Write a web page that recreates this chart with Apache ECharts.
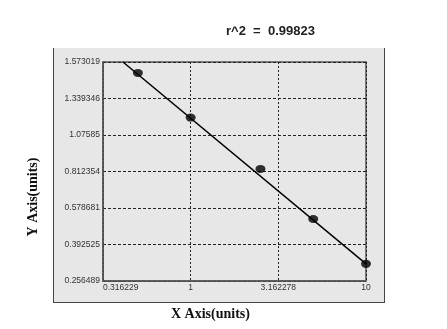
<!DOCTYPE html>
<html><head><meta charset="utf-8">
<script src="https://cdn.jsdelivr.net/npm/echarts@6/dist/echarts.min.js"></script>
<style>html,body{margin:0;padding:0;background:#fff}#c{width:447px;height:329px}</style>
</head><body><div id="c"></div>
<script>
// Data
var xTickValues = [0.316229, 1, 3.162278, 10];
var xTickLabels = ['0.316229', '1', '3.162278', '10'];
var yTickValues = [0.256489, 0.392525, 0.578681, 0.812354, 1.07585, 1.339346, 1.573019];
var yTickLabels = ['0.256489', '0.392525', '0.578681', '0.812354', '1.07585', '1.339346', '1.573019'];
var xValues = [0.5, 1, 2.5, 5, 10];
var yValues = [1.503, 1.2017, 0.8308, 0.5228, 0.3204];
var fitX = [0.411, 10];
var fitY = [1.573019, 0.3204];
var titleText = 'r^2  =  0.99823';

// The y axis is drawn with equally spaced ticks; map a value to its tick position
function yPos(v) {
  for (var i = 0; i < yTickValues.length - 1; i++) {
    if (v <= yTickValues[i + 1]) {
      return i + (v - yTickValues[i]) / (yTickValues[i + 1] - yTickValues[i]);
    }
  }
  return yTickValues.length - 1;
}
function xPos(v) { return Math.log10(v); }

var pts = xValues.map(function (x, i) { return [xPos(x), yPos(yValues[i])]; });
var fit = fitX.map(function (x, i) { return [xPos(x), yPos(fitY[i])]; });

var chart = echarts.init(document.getElementById('c'), null, {renderer: 'canvas'});
chart.setOption({
  animation: false,
  backgroundColor: '#ffffff',
  graphic: [
    {type: 'rect', z: -10, shape: {x: 53, y: 48, width: 331, height: 254}, style: {fill: '#e7e7e7'}},
    {type: 'line', z: -9, shape: {x1: 53.5, y1: 48, x2: 53.5, y2: 302}, style: {stroke: '#444', lineWidth: 1}},
    {type: 'line', z: -9, shape: {x1: 384.5, y1: 48, x2: 384.5, y2: 302}, style: {stroke: '#444', lineWidth: 1}},
    {type: 'line', z: -9, shape: {x1: 53, y1: 302.5, x2: 385, y2: 302.5}, style: {stroke: '#444', lineWidth: 1}},
    {type: 'text', left: 226, top: 25, style: {text: titleText, font: 'bold 13px "Liberation Sans", Arial, sans-serif', fill: '#222'}},
    {type: 'text', left: 171, top: 307, style: {text: 'X Axis(units)', font: 'bold 14px "Liberation Serif", "Times New Roman", serif', fill: '#111'}},
    {type: 'text', x: 33, y: 197, rotation: Math.PI / 2, style: {text: 'Y Axis(units)', font: 'bold 14px "Liberation Serif", "Times New Roman", serif', fill: '#111', align: 'center', verticalAlign: 'middle'}}
  ],
  grid: {left: 103, right: 81, top: 62, bottom: 48, show: true, backgroundColor: '#e7e7e7', borderColor: '#555', borderWidth: 1.5},
  xAxis: {
    type: 'value', min: -0.5, max: 1, interval: 0.5,
    axisLine: {show: true, onZero: false, lineStyle: {color: '#555', width: 1.5}},
    axisTick: {show: false},
    axisLabel: {
      color: '#333', fontSize: 8.5, fontFamily: '"Liberation Sans", Arial, sans-serif', margin: 2,
      formatter: function (v) {
        for (var i = 0; i < xTickValues.length; i++) if (Math.abs(Math.log10(xTickValues[i]) - v) < 1e-3) return xTickLabels[i];
        return '';
      },
      align: 'center', alignMinLabel: 'left'
    },
    splitLine: {show: true, lineStyle: {color: '#222', type: [2, 2], width: 1}}
  },
  yAxis: {
    type: 'value', min: 0, max: 6, interval: 1,
    axisLine: {show: true, onZero: false, lineStyle: {color: '#555', width: 1.5}},
    axisTick: {show: false},
    axisLabel: {
      color: '#333', fontSize: 8.5, fontFamily: '"Liberation Sans", Arial, sans-serif', margin: 3,
      formatter: function (v) { return yTickLabels[Math.round(v)]; }
    },
    splitLine: {show: true, lineStyle: {color: '#222', type: [3, 2], width: 1}}
  },
  series: [
    {type: 'line', data: fit, symbol: 'none', lineStyle: {color: '#000', width: 1.5}, z: 3},
    {type: 'scatter', data: pts, symbol: 'circle', symbolSize: [10, 8], itemStyle: {color: '#000'}, z: 4}
  ]
});
</script></body></html>
